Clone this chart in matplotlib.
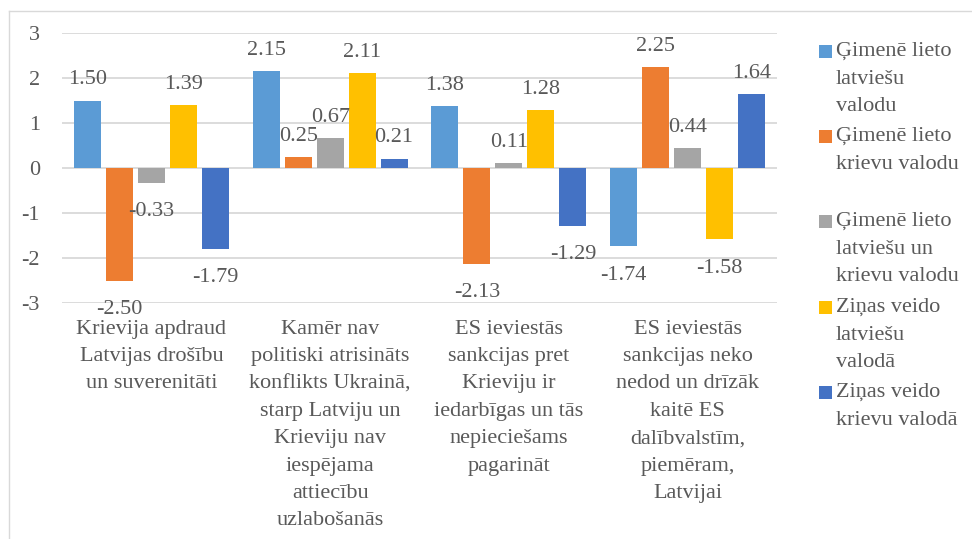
import numpy as np
import matplotlib.pyplot as plt
from matplotlib.patches import Rectangle
from matplotlib.lines import Line2D

plt.rcParams['font.family'] = ['Liberation Serif', 'DejaVu Serif']

categories = [
    "Krievija apdraud\nLatvijas drošību\nun suverenitāti",
    "Kamēr nav\npolitiski atrisināts\nkonflikts Ukrainā,\nstarp Latviju un\nKrieviju nav\niespējama\nattiecību\nuzlabošanās",
    "ES ieviestās\nsankcijas pret\nKrieviju ir\niedarbīgas un tās\nnepieciešams\npagarināt",
    "ES ieviestās\nsankcijas neko\nnedod un drīzāk\nkaitē ES\ndalībvalstīm,\npiemēram,\nLatvijai",
]
series_names = [
    "Ģimenē lieto\nlatviešu\nvalodu",
    "Ģimenē lieto\nkrievu valodu",
    "Ģimenē lieto\nlatviešu un\nkrievu valodu",
    "Ziņas veido\nlatviešu\nvalodā",
    "Ziņas veido\nkrievu valodā",
]
gim_latv = [1.50, 2.15, 1.38, -1.74]
gim_kriev = [-2.50, 0.25, -2.13, 2.25]
gim_abas = [-0.33, 0.67, 0.11, 0.44]
zin_latv = [1.39, 2.11, 1.28, -1.58]
zin_kriev = [-1.79, 0.21, -1.29, 1.64]
values = [gim_latv, gim_kriev, gim_abas, zin_latv, zin_kriev]
colors = ["#5B9BD5", "#ED7D31", "#A5A5A5", "#FFC000", "#4472C4"]

txt = "#595959"
fs = 16

fig = plt.figure(figsize=(9.72, 5.39), dpi=100)
# chart border
fig.add_artist(Line2D([9/972, 1], [1 - 11/539, 1 - 11/539], color="#D9D9D9", lw=1))
fig.add_artist(Line2D([9/972, 9/972], [0, 1 - 11/539], color="#D9D9D9", lw=1))

ax = fig.add_axes([62/972, 1 - 303/539, 715/972, 270/539])

x = np.arange(len(categories))
bw = 0.151
step = 0.179
for i, (vals, c) in enumerate(zip(values, colors)):
    pos = x + (i - 2) * step
    ax.bar(pos, vals, width=bw, color=c, zorder=3)
    for p, v in zip(pos, vals):
        ax.annotate(f"{v:.2f}", (p, v), xytext=(0, 8 if v >= 0 else -14),
                    textcoords="offset points", ha="center",
                    va="bottom" if v >= 0 else "top", fontsize=fs, color=txt, zorder=4)

ax.set_xlim(-0.5, len(categories) - 0.5)
ax.set_ylim(-3, 3)
ax.set_yticks(range(-3, 4))
ax.set_yticklabels([str(t) for t in range(-3, 4)])
ax.yaxis.grid(True, color="#D9D9D9", lw=1.3, zorder=0)
ax.set_xticks(x)
ax.set_xticklabels(categories, fontsize=fs, color=txt, linespacing=1.6, va="top")
ax.tick_params(axis="x", length=0, pad=12)
ax.tick_params(axis="y", length=0, pad=16, labelsize=fs, labelcolor=txt)
for s in ax.spines.values():
    s.set_visible(False)

# legend
leg_y = [52, 137, 222, 308, 393]
for name, c, yy in zip(series_names, colors, leg_y):
    fig.add_artist(Rectangle((819/972, 1 - (yy + 6)/539), 13/972, 13/539,
                             facecolor=c, edgecolor="none", transform=fig.transFigure))
    fig.text(836/972, 1 - (yy - 10)/539, name, fontsize=fs, color=txt,
             va="top", ha="left", linespacing=1.62)

fig.savefig("out.png", dpi=100)
